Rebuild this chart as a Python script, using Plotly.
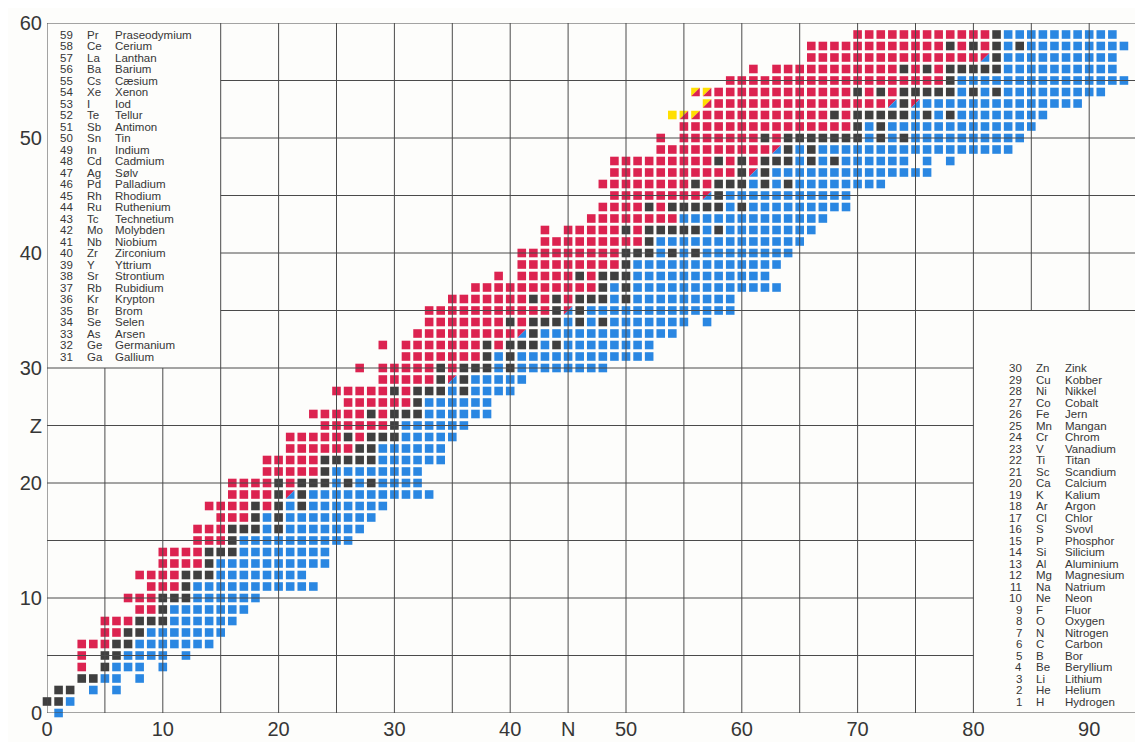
import re
import plotly.graph_objects as go

# ---------------- data ----------------
# For each proton number Z (0..59): first neutron number N of the row and a
# run-length code of the cells: r = proton rich (beta+/EC), b = neutron rich (beta-),
# s = stable, x = red/blue split, y = alpha (yellow), z = yellow/red split, . = empty
ROW_Z = list(range(60))
ROW_START = [1, 0, 1, 3, 3, 3, 3, 5, 5, 8, 7, 9, 8, 10, 10, 13, 13, 15, 14, 16,
             16, 19, 19, 21, 21, 24, 23, 26, 25, 29, 27, 31, 29, 32, 33, 33, 35, 37, 39, 41,
             41, 43, 43, 47, 48, 49, 48, 49, 49, 53, 53, 55, 54, 57, 56, 59, 61, 66, 66, 70]
ROW_RUNS = [
    "1b", "2s1b", "2s1.1b1.1b", "2s2b1.1b", "1r1.1s3b1.1b", "1r1.2s4b1.1b",
    "3r2s7b", "2r2s7b", "3r3s6b", "2r1s7b", "3r3s6b", "3r1s11b", "4r3s8b",
    "4r1s10b", "4r3s8b", "3r1s10b", "3r3s1b1s7b", "3r1s1b1s8b", "4r1s1r1s1b1s7b",
    "4r1s1x1s11b", "4r1s1r3s1b1s1b1s4b", "5r1s8b", "5r5s6b", "6r2s6b",
    "5r1s1r3s5b", "6r1s6b", "5r1s1r3s6b", "6r1s6b", "5r1s1r3s1b1s4b",
    "5r1s1x1s5b", "1r1.5r1s1r3s1b1s8b", "7r1s1b1s12b", "1r1.7r1s1r3s1b1s8b",
    "9r1x1s12b", "7r1s1r3s1b1s1b1s7b1.1b", "11r1s1x1s13b", "7r1s1r1s1r3s1b1s9b",
    "11r1s1b1s13b", "1r1.5r1s1r3s12b", "9r1s13b", "9r3s1b1s1b1s8b", "9r1s13b",
    "1r1.5r1s1r5s1b1s8b", "8r13b", "4r1s1r5s1b1s9b", "8r1x1s11b",
    "8r1s1r3s1b1s1b1s8b", "11r1s1x1s14b", "9r1s1r1s1r3s1b1s1b1s6b1.1b1.1b",
    "10r1x1s1b1s17b", "1r1.7r1s1r7s1b1s1b1s10b", "15r1s1b1s13b",
    "1y2z11r1s1r5s1b1s1b1s8b", "1z15r1x1s1x14b", "2z12r1s1r1s1r5s1b1s1b1s9b",
    "19r1s15b", "1r1.11r1s1r1s1r5s10b", "15r1x1s10b", "12r1s1r1s1r1s1b1s9b",
    "12r1s10b",
]

SYMBOLS = ["H", "He", "Li", "Be", "B", "C", "N", "O", "F", "Ne", "Na", "Mg", "Al", "Si",
           "P", "S", "Cl", "Ar", "K", "Ca", "Sc", "Ti", "V", "Cr", "Mn", "Fe", "Co", "Ni",
           "Cu", "Zn", "Ga", "Ge", "As", "Se", "Br", "Kr", "Rb", "Sr", "Y", "Zr", "Nb",
           "Mo", "Tc", "Ru", "Rh", "Pd", "Ag", "Cd", "In", "Sn", "Sb", "Te", "I", "Xe",
           "Cs", "Ba", "La", "Ce", "Pr"]
NAMES = ["Hydrogen", "Helium", "Lithium", "Beryllium", "Bor", "Carbon", "Nitrogen",
         "Oxygen", "Fluor", "Neon", "Natrium", "Magnesium", "Aluminium", "Silicium",
         "Phosphor", "Svovl", "Chlor", "Argon", "Kalium", "Calcium", "Scandium", "Titan",
         "Vanadium", "Chrom", "Mangan", "Jern", "Cobalt", "Nikkel", "Kobber", "Zink",
         "Gallium", "Germanium", "Arsen", "Selen", "Brom", "Krypton", "Rubidium",
         "Strontium", "Yttrium", "Zirconium", "Niobium", "Molybden", "Technetium",
         "Ruthenium", "Rhodium", "Palladium", "Sølv", "Cadmium", "Indium", "Tin",
         "Antimon", "Tellur", "Iod", "Xenon", "Cæsium", "Barium", "Lanthan", "Cerium",
         "Praseodymium"]

X_TICKVALS = [0, 10, 20, 30, 40, 45, 50, 60, 70, 80, 90]
X_TICKTEXT = ["0", "10", "20", "30", "40", "N", "50", "60", "70", "80", "90"]
Y_TICKVALS = [0, 10, 20, 25, 30, 40, 50, 60]
Y_TICKTEXT = ["0", "10", "20", "Z", "30", "40", "50", "60"]

# ---------------- style ----------------
# the page body keeps its default 8px margin, so the figure is shifted by 8px
W, H = 1135, 734
ML, MR, MT, MB = 39, 0, 15, 29
X_MAX = (W - ML - MR) / 11.58
Y_MAX = 60
PXX = (W - ML - MR) / X_MAX
PXY = (H - MT - MB) / Y_MAX
CELL = 8.6
RED, BLUE, DARK, YELLOW = "#dc2350", "#2a87e2", "#3f3f3f", "#ffdf00"
GRID = "#4a4a4a"
TXT = "#363636"
FONT = "Liberation Sans, Arial, Helvetica, sans-serif"

cells = {k: ([], []) for k in "rbsyxz"}
for z, n0, runs in zip(ROW_Z, ROW_START, ROW_RUNS):
    n = n0
    for cnt, kind in re.findall(r"(\d+)([rbsxyz.])", runs):
        for _ in range(int(cnt)):
            if kind != ".":
                cells[kind][0].append(n)
                cells[kind][1].append(z)
            n += 1

fig = go.Figure()


def squares(kind, color):
    xs, ys = cells[kind]
    fig.add_trace(go.Scatter(x=xs, y=ys, mode="markers", cliponaxis=False,
                             hoverinfo="skip", showlegend=False,
                             marker=dict(symbol="square", size=CELL, color=color,
                                         line=dict(width=0))))


squares("r", RED)
squares("b", BLUE)
squares("s", DARK)
squares("y", YELLOW)

hx = CELL / 2 / PXX
hy = CELL / 2 / PXY


def halves(kind, upper_color, lower_color):
    xs, ys = cells[kind]
    ux, uy, lx, ly = [], [], [], []
    for n, z in zip(xs, ys):
        ux += [n - hx, n - hx, n + hx, n - hx, None]
        uy += [z - hy, z + hy, z + hy, z - hy, None]
        lx += [n - hx, n + hx, n + hx, n - hx, None]
        ly += [z - hy, z - hy, z + hy, z - hy, None]
    for px, py, col in ((ux, uy, upper_color), (lx, ly, lower_color)):
        fig.add_trace(go.Scatter(x=px, y=py, mode="lines", fill="toself",
                                 fillcolor=col, line=dict(width=0, color=col),
                                 hoverinfo="skip", showlegend=False))


halves("x", RED, BLUE)
halves("z", YELLOW, RED)

# grid lines (drawn above the cells, with blank boxes behind the element lists)
shapes = []


def seg(x0, y0, x1, y1):
    shapes.append(dict(type="line", xref="x", yref="y", x0=x0, y0=y0, x1=x1, y1=y1,
                       layer="above", line=dict(color=GRID, width=1)))


for n in range(0, 95, 5):
    if n == 0 or 15 <= n <= 80:
        seg(n, 0, n, 60)
    elif n in (5, 10):
        seg(n, 0, n, 30)
    else:
        seg(n, 35, n, 60)
for z in range(0, 61, 5):
    if z in (0, 60):
        seg(0, z, X_MAX, z)
    elif z <= 30:
        seg(0, z, 80, z)
    else:
        seg(15, z, X_MAX, z)

# element lists
ann = []
for z in range(1, 60):
    if z >= 31:
        xn, xs, xm = 2.42, 3.28, 5.70
    else:
        xn, xs, xm = 84.37, 85.23, 87.74
    f = dict(family=FONT, size=11.5, color=TXT)
    ann.append(dict(x=xn, y=z, xref="x", yref="y", text=str(z), showarrow=False,
                    xanchor="right", yanchor="middle", font=f))
    ann.append(dict(x=xs, y=z, xref="x", yref="y", text=SYMBOLS[z - 1], showarrow=False,
                    xanchor="left", yanchor="middle", font=f))
    ann.append(dict(x=xm, y=z, xref="x", yref="y", text=NAMES[z - 1], showarrow=False,
                    xanchor="left", yanchor="middle", font=f))

fig.update_layout(
    width=W, height=H,
    margin=dict(l=ML, r=MR, t=MT, b=MB, pad=0, autoexpand=False),
    paper_bgcolor="#fdfdfb", plot_bgcolor="#fdfdfb",
    shapes=shapes, annotations=ann,
    xaxis=dict(range=[0, X_MAX], showgrid=False, zeroline=False, showline=False,
               tickvals=X_TICKVALS, ticktext=X_TICKTEXT, ticks="",
               ticklabelstandoff=2, automargin=False,
               tickfont=dict(family=FONT, size=20, color=TXT), fixedrange=True),
    yaxis=dict(range=[0, Y_MAX], showgrid=False, zeroline=False, showline=False,
               tickvals=Y_TICKVALS, ticktext=Y_TICKTEXT, ticks="",
               ticklabelstandoff=4, automargin=False,
               tickfont=dict(family=FONT, size=20, color=TXT), fixedrange=True),
)

fig.write_html("out.html")
